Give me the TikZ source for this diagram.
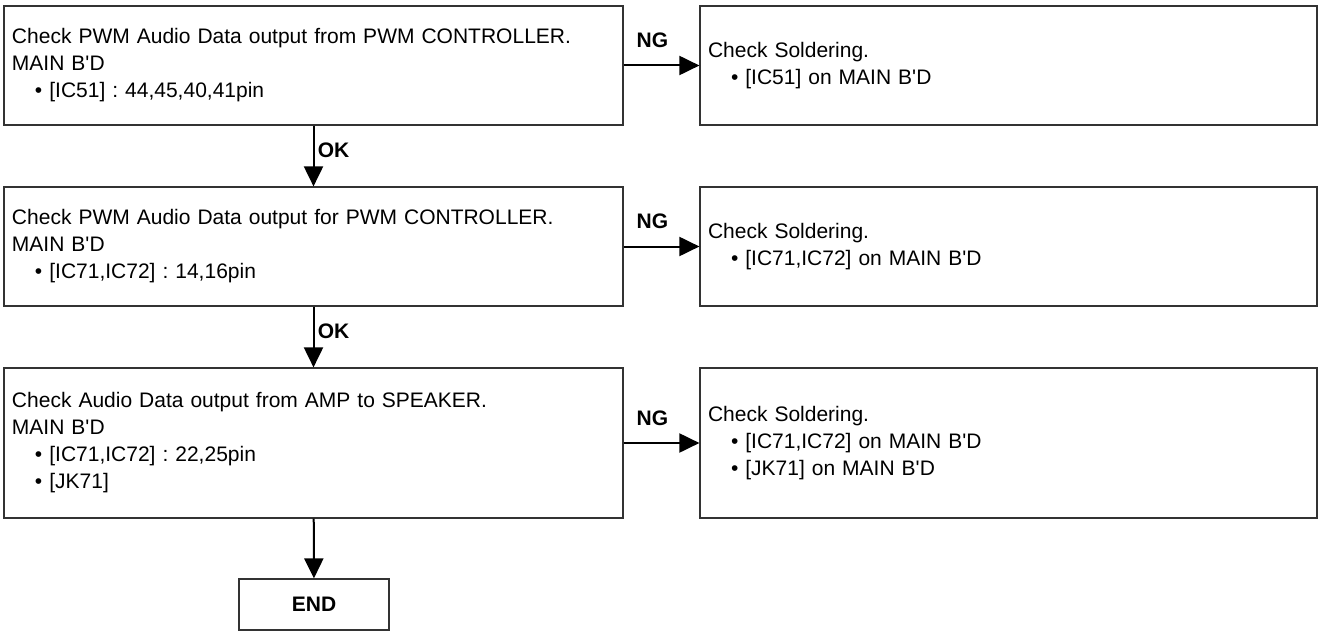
\documentclass[tikz,border=0pt]{standalone}
\usepackage{fontspec}
\setmainfont{Liberation Sans}
\usepackage{tikz}
\usetikzlibrary{arrows.meta}

\newcommand{\mainbd}{MAIN B\textquotesingle D}
\newcommand{\pinitem}[1]{\hspace*{23pt}\textbullet\ #1}

\begin{document}
\begin{tikzpicture}[x=1pt,y=-1pt,
  chkbox/.style={draw=black!80, line width=1.2pt, rectangle, inner xsep=8pt, inner ysep=0pt,
    align=left, font=\fontsize{21}{27}\selectfont\frenchspacing},
  leftbox/.style={chkbox, minimum width=619pt, text width=603pt},
  rightbox/.style={chkbox, minimum width=617pt, text width=601pt},
  flow/.style={line width=2pt, -{Triangle[length=20pt,width=19pt]}},
  tag/.style={font=\fontsize{21}{27}\selectfont\bfseries}]

\useasboundingbox (0,0) rectangle (1319,631);

%%%%%%%%%%%%%%%%%%%%%%%%%%%% PWM CONTROLLER out %%%%%%%%%%%%%%%%%%%%
\node[leftbox, minimum height=119pt] (chk1) at (313.5,65.5) {Check PWM Audio Data output from PWM CONTROLLER.\\
\mainbd\\
\pinitem{[IC51] : 44,45,40,41pin}};
\node[rightbox, minimum height=119pt] (sol1) at (1008.5,65.5) {Check Soldering.\\
\pinitem{[IC51] on \mainbd}};
\draw[flow] (chk1) -- (sol1) node[tag, pos=0.38, yshift=25pt] (ng1) {NG};

%%%%%%%%%%%%%%%%%%%%%%%%%%%% PWM CONTROLLER in %%%%%%%%%%%%%%%%%%%%
\node[leftbox, minimum height=119pt] (chk2) at (313.5,246.5) {Check PWM Audio Data output for PWM CONTROLLER.\\
\mainbd\\
\pinitem{[IC71,IC72] : 14,16pin}};
\node[rightbox, minimum height=119pt] (sol2) at (1008.5,246.5) {Check Soldering.\\
\pinitem{[IC71,IC72] on \mainbd}};
\draw[flow] (chk2) -- (sol2) node[tag, pos=0.38, yshift=25pt] (ng2) {NG};

\draw[flow] (chk1) -- (chk2) node[tag, right, pos=0.4] (ok1) {OK};

%%%%%%%%%%%%%%%%%%%%%%%%%%%% AMP to SPEAKER %%%%%%%%%%%%%%%%%%%%
\node[leftbox, minimum height=150pt] (chk3) at (313.5,443) {Check Audio Data output from AMP to SPEAKER.\\
\mainbd\\
\pinitem{[IC71,IC72] : 22,25pin}\\
\pinitem{[JK71]}};
\node[rightbox, minimum height=150pt] (sol3) at (1008.5,443) {Check Soldering.\\
\pinitem{[IC71,IC72] on \mainbd}\\
\pinitem{[JK71] on \mainbd}};
\draw[flow] (chk3) -- (sol3) node[tag, pos=0.38, yshift=25pt] (ng3) {NG};

\draw[flow] (chk2) -- (chk3) node[tag, right, pos=0.4] (ok2) {OK};

%%%%%%%%%%%%%%%%%%%%%%%%%%%%%%%%%%%%%%%%%%%%%%%%%%%%%%%%%%%%%%%%%
\node[chkbox, tag, minimum width=150pt, minimum height=51pt] (fin) at (314,604.5) {END};
\draw[flow] (chk3) -- (fin);

\end{tikzpicture}
\end{document}
